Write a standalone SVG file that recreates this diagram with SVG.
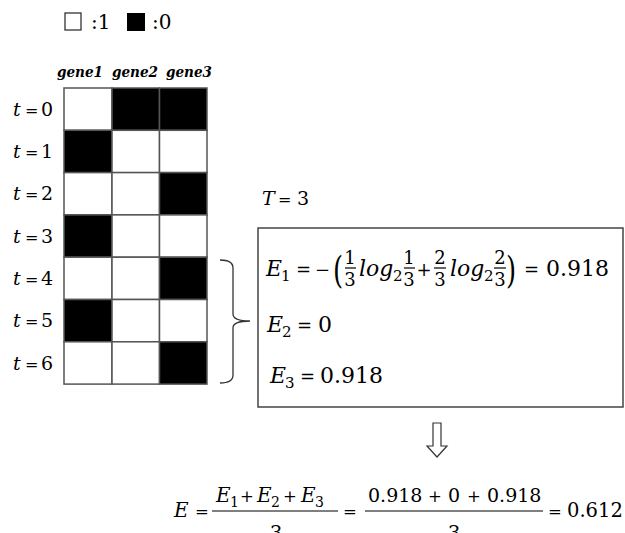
<svg xmlns="http://www.w3.org/2000/svg" width="625" height="533" viewBox="0 0 625 533" font-family="'DejaVu Serif', serif">
<style>
text{font-family:"DejaVu Serif",serif;fill:#000}
.lab{font-size:19px}
.eq{font-size:16px}
.gene{font-size:15px;font-weight:bold;font-style:italic}
.m{font-size:22px}
.r{font-size:20px}
.op{font-size:18px}
.opb{font-size:16.5px}
.i{font-style:italic}
.sub{font-size:15px}
.sub2{font-size:14px}
.fr{font-size:18px;text-anchor:middle}
.num{font-size:19px}
.mid{text-anchor:middle}
.cellw{fill:#fff;stroke:#555;stroke-width:1.5}
.cellb{fill:#000;stroke:#555;stroke-width:1.5}
.bar{stroke:#000;stroke-width:1.2}
.conn{fill:none;stroke:#333;stroke-width:1.3}
</style>
<rect width="625" height="533" fill="#fff"/>

<g id="legend">
  <rect x="65" y="13" width="16" height="17" fill="#fff" stroke="#333" stroke-width="1.3"/>
  <text x="91" y="29" style="font-size:20px">:1</text>
  <rect x="127" y="13" width="18" height="18" fill="#000"/>
  <text x="152" y="29" style="font-size:20px">:0</text>
</g>

<g id="gene-labels">
  <text x="57" y="77" class="gene" textLength="46" lengthAdjust="spacingAndGlyphs">gene1</text>
  <text x="112" y="77" class="gene" textLength="46" lengthAdjust="spacingAndGlyphs">gene2</text>
  <text x="166" y="77" class="gene" textLength="46" lengthAdjust="spacingAndGlyphs">gene3</text>
</g>

<g id="time-labels">
  <text x="13" y="116" class="lab i">t</text><text x="25" y="116" class="eq">=</text><text x="41" y="116" class="lab">0</text>
  <text x="13" y="158" class="lab i">t</text><text x="25" y="158" class="eq">=</text><text x="41" y="158" class="lab">1</text>
  <text x="13" y="200" class="lab i">t</text><text x="25" y="200" class="eq">=</text><text x="41" y="200" class="lab">2</text>
  <text x="13" y="243" class="lab i">t</text><text x="25" y="243" class="eq">=</text><text x="41" y="243" class="lab">3</text>
  <text x="13" y="285" class="lab i">t</text><text x="25" y="285" class="eq">=</text><text x="41" y="285" class="lab">4</text>
  <text x="13" y="327" class="lab i">t</text><text x="25" y="327" class="eq">=</text><text x="41" y="327" class="lab">5</text>
  <text x="13" y="370" class="lab i">t</text><text x="25" y="370" class="eq">=</text><text x="41" y="370" class="lab">6</text>
</g>

<g id="grid">
  <rect class="cellw" x="64" y="88" width="48" height="42.3"/>
  <rect class="cellb" x="112" y="88" width="47.5" height="42.3"/>
  <rect class="cellb" x="159.5" y="88" width="47.5" height="42.3"/>

  <rect class="cellb" x="64" y="130.3" width="48" height="42.3"/>
  <rect class="cellw" x="112" y="130.3" width="47.5" height="42.3"/>
  <rect class="cellw" x="159.5" y="130.3" width="47.5" height="42.3"/>

  <rect class="cellw" x="64" y="172.6" width="48" height="42.3"/>
  <rect class="cellw" x="112" y="172.6" width="47.5" height="42.3"/>
  <rect class="cellb" x="159.5" y="172.6" width="47.5" height="42.3"/>

  <rect class="cellb" x="64" y="214.9" width="48" height="42.3"/>
  <rect class="cellw" x="112" y="214.9" width="47.5" height="42.3"/>
  <rect class="cellw" x="159.5" y="214.9" width="47.5" height="42.3"/>

  <rect class="cellw" x="64" y="257.2" width="48" height="42.3"/>
  <rect class="cellw" x="112" y="257.2" width="47.5" height="42.3"/>
  <rect class="cellb" x="159.5" y="257.2" width="47.5" height="42.3"/>

  <rect class="cellb" x="64" y="299.5" width="48" height="42.3"/>
  <rect class="cellw" x="112" y="299.5" width="47.5" height="42.3"/>
  <rect class="cellw" x="159.5" y="299.5" width="47.5" height="42.3"/>

  <rect class="cellw" x="64" y="341.8" width="48" height="42.3"/>
  <rect class="cellw" x="112" y="341.8" width="47.5" height="42.3"/>
  <rect class="cellb" x="159.5" y="341.8" width="47.5" height="42.3"/>
</g>

<g id="T-label">
  <text x="262" y="205" class="lab i">T</text><text x="278" y="205" class="eq">=</text><text x="297" y="205" class="lab">3</text>
</g>

<g id="entropy-box">
  <rect x="258" y="228" width="365" height="179" fill="#fff" stroke="#444" stroke-width="1.5"/>
  <!-- E1 line -->
  <text x="266" y="276" class="m i">E</text>
  <text x="281" y="281" class="sub">1</text>
  <text x="296" y="276" class="op">=</text>
  <text x="315" y="276" class="op">−</text>
  <text transform="translate(333,283) scale(1,1.45)" style="font-size:26px">(</text>
  <text x="350" y="264" class="fr">1</text>
  <line class="bar" x1="345" y1="268" x2="356" y2="268"/>
  <text x="350" y="286" class="fr">3</text>
  <text x="359" y="276" class="m i">log</text>
  <text x="393" y="281" class="sub">2</text>
  <text x="409" y="264" class="fr">1</text>
  <line class="bar" x1="404" y1="268" x2="415" y2="268"/>
  <text x="409" y="286" class="fr">3</text>
  <text x="424" y="276" class="op mid">+</text>
  <text x="440" y="264" class="fr">2</text>
  <line class="bar" x1="434" y1="268" x2="446" y2="268"/>
  <text x="440" y="286" class="fr">3</text>
  <text x="450" y="276" class="m i">log</text>
  <text x="484" y="281" class="sub">2</text>
  <text x="500" y="264" class="fr">2</text>
  <line class="bar" x1="494" y1="268" x2="506" y2="268"/>
  <text x="500" y="286" class="fr">3</text>
  <text transform="translate(506,283) scale(1,1.45)" style="font-size:26px">)</text>
  <text x="524" y="276" class="op">=</text>
  <text x="546" y="276" class="m">0.918</text>
  <!-- E2 line -->
  <text x="267" y="332" class="m i">E</text>
  <text x="282" y="337" class="sub">2</text>
  <text x="297" y="332" class="op">=</text>
  <text x="318" y="332" class="m">0</text>
  <!-- E3 line -->
  <text x="270" y="383" class="m i">E</text>
  <text x="285" y="388" class="sub">3</text>
  <text x="300" y="383" class="op">=</text>
  <text x="320" y="383" class="m">0.918</text>
</g>

<g id="result">
  <text x="174" y="517" class="r i">E</text>
  <text x="195" y="517" class="opb">=</text>
  <text x="216" y="502" class="r i">E</text>
  <text x="230" y="507" class="sub2">1</text>
  <text x="247" y="502" class="opb mid">+</text>
  <text x="257" y="502" class="r i">E</text>
  <text x="271" y="507" class="sub2">2</text>
  <text x="290" y="502" class="opb mid">+</text>
  <text x="301" y="502" class="r i">E</text>
  <text x="315" y="507" class="sub2">3</text>
  <line class="bar" x1="212" y1="511" x2="338" y2="511"/>
  <text x="276" y="540" class="r mid">3</text>
  <text x="343" y="517" class="opb">=</text>
  <text x="368" y="502" class="num">0.918</text>
  <text x="435" y="502" class="opb mid">+</text>
  <text x="448" y="502" class="num">0</text>
  <text x="474" y="502" class="opb mid">+</text>
  <text x="487" y="502" class="num">0.918</text>
  <line class="bar" x1="365" y1="511" x2="543" y2="511"/>
  <text x="454" y="540" class="r mid">3</text>
  <text x="548" y="517" class="opb">=</text>
  <text x="567" y="517" style="font-size:19.5px">0.612</text>
</g>

<g id="connectors">
  <path class="conn" d="M220,260 C228,260 233,262 233,268 L233,314 C233,319 240,321 250,321 C240,321 233,323 233,328 L233,375 C233,381 228,383 220,383"/>
  <polygon points="433,423 441,423 441,446 447,446 437,457 427,446 433,446" fill="#fff" stroke="#333" stroke-width="1.2"/>
</g>
</svg>
